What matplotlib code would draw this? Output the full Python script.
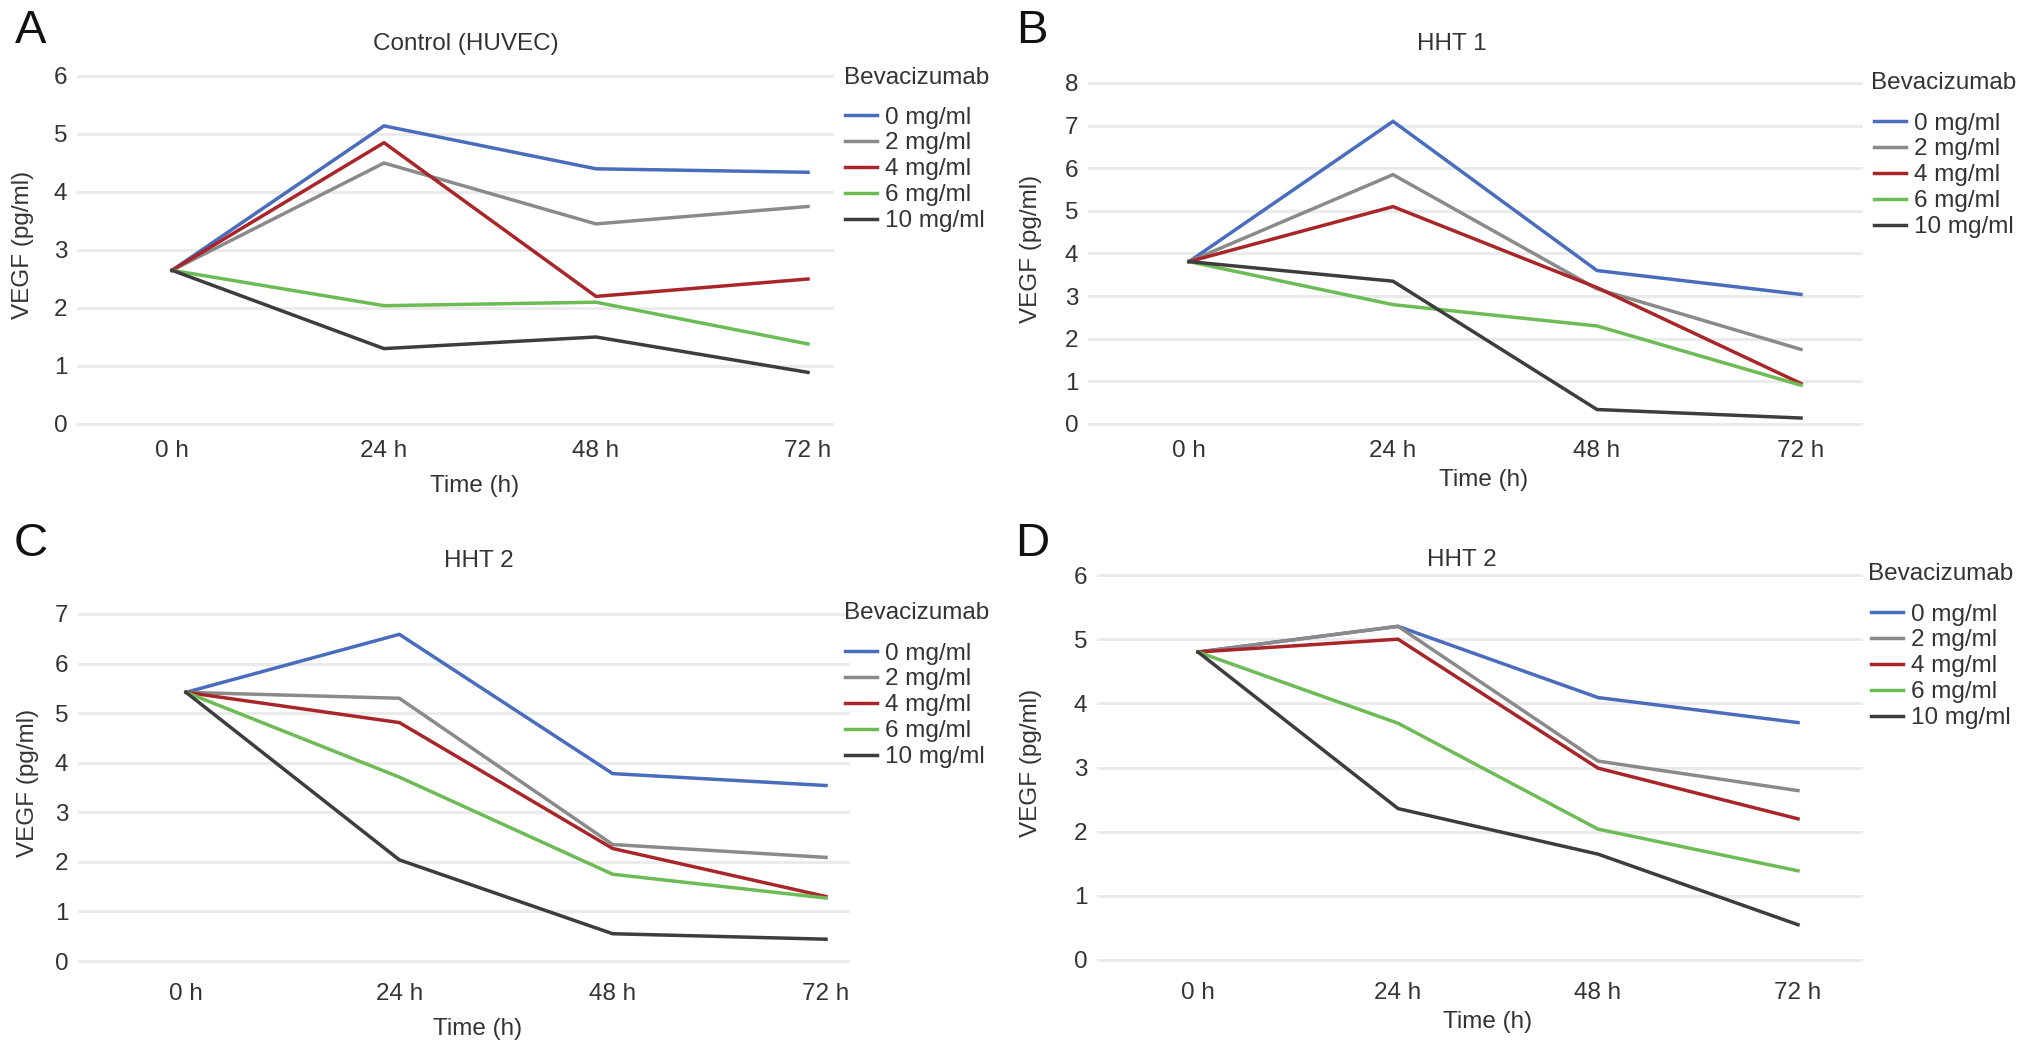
import matplotlib
matplotlib.use("Agg")
import matplotlib.pyplot as plt

plt.rcParams['font.family'] = ['Liberation Sans', 'DejaVu Sans']

# ---------------- data ----------------
time_labels = ["0 h", "24 h", "48 h", "72 h"]
dose_labels = ["0 mg/ml", "2 mg/ml", "4 mg/ml", "6 mg/ml", "10 mg/ml"]
legend_title = "Bevacizumab"
panel_letters = ["A", "B", "C", "D"]
panel_titles = ["Control (HUVEC)", "HHT 1", "HHT 2", "HHT 2"]
panel_ymax = [6, 8, 7, 6]

# panel A: Control (HUVEC)
a_0mg = [2.65, 5.14, 4.40, 4.34]
a_2mg = [2.65, 4.50, 3.45, 3.75]
a_4mg = [2.65, 4.85, 2.20, 2.50]
a_6mg = [2.65, 2.04, 2.10, 1.38]
a_10mg = [2.65, 1.30, 1.50, 0.89]

# panel B: HHT 1
b_0mg = [3.81, 7.10, 3.60, 3.04]
b_2mg = [3.81, 5.85, 3.17, 1.75]
b_4mg = [3.81, 5.10, 3.20, 0.95]
b_6mg = [3.81, 2.80, 2.30, 0.91]
b_10mg = [3.81, 3.35, 0.34, 0.14]

# panel C: HHT 2
c_0mg = [5.42, 6.59, 3.78, 3.54]
c_2mg = [5.42, 5.30, 2.35, 2.09]
c_4mg = [5.42, 4.81, 2.27, 1.30]
c_6mg = [5.42, 3.71, 1.75, 1.27]
c_10mg = [5.42, 2.04, 0.55, 0.44]

# panel D: HHT 2
d_0mg = [4.80, 5.20, 4.09, 3.70]
d_2mg = [4.80, 5.20, 3.10, 2.64]
d_4mg = [4.80, 5.00, 2.99, 2.20]
d_6mg = [4.80, 3.69, 2.04, 1.39]
d_10mg = [4.80, 2.36, 1.65, 0.55]

panel_series = [
    [a_0mg, a_2mg, a_4mg, a_6mg, a_10mg],
    [b_0mg, b_2mg, b_4mg, b_6mg, b_10mg],
    [c_0mg, c_2mg, c_4mg, c_6mg, c_10mg],
    [d_0mg, d_2mg, d_4mg, d_6mg, d_10mg],
]

colors = ["#4a6cbd", "#8a8a8a", "#a8262a", "#6cbb55", "#3d3d3d"]

# ---------------- layout (pixels) ----------------
W, H = 2032, 1055
fig = plt.figure(figsize=(W / 100, H / 100), dpi=100)
FS = 17.5

# (grid_left, grid_right, y_top_grid, y_zero, tick0_px, tick3_px)
geo = [
    (77, 834, 76, 424, 172, 808),
    (1088, 1863, 83, 424, 1189, 1801),
    (78, 850, 614, 961, 186, 826),
    (1097, 1863, 575, 960, 1198, 1798),
]
title_pos = [(466, 44), (1452, 44), (479, 561), (1462, 560)]
letter_pos = [(31, 31), (1032, 31), (31, 544), (1032, 544)]
ylabel_x = [23, 1031, 28, 1031]
xlabel_pos = [(475, 486), (1484, 480), (478, 1029), (1488, 1022)]
xtick_off = [25, 25, 31, 31]
legend_title_pos = [(844, 78), (1871, 83), (844, 613), (1868, 574)]
legend_first = [(845, 117), (1874, 123), (845, 653), (1871, 614)]

x = list(range(len(time_labels)))

for i in range(4):
    gl, gr, yt, y0, t0, t3 = geo[i]
    ymax = panel_ymax[i]
    pad_top, pad_bot = 14, 4
    ax = fig.add_axes([gl / W, 1 - (y0 + pad_bot) / H, (gr - gl) / W,
                       (y0 + pad_bot - (yt - pad_top)) / H])
    s = (t3 - t0) / 3.0
    ax.set_xlim((gl - t0) / s, (gr - t0) / s)
    unit = (y0 - yt) / ymax
    ax.set_ylim(-pad_bot / unit, ymax + pad_top / unit)

    for vals, col, lab in zip(panel_series[i], colors, dose_labels):
        ax.plot(x, vals, color=col, lw=2.5, label=lab, solid_joinstyle='miter')

    ax.set_yticks(range(0, ymax + 1))
    ax.set_xticks(x)
    ax.set_xticklabels(time_labels)
    ax.grid(axis='y', color='#ebebeb', lw=2.2)
    ax.set_axisbelow(True)
    for sp in ax.spines.values():
        sp.set_visible(False)
    xpad = (xtick_off[i] - 9 - pad_bot) * 0.72
    ax.tick_params(axis='x', length=0, pad=xpad, labelsize=FS, labelcolor='#333333')
    ax.tick_params(axis='y', length=0, pad=7, labelsize=FS, labelcolor='#333333')

    axw = gr - gl
    axh = y0 + pad_bot - (yt - pad_top)
    axtop = yt - pad_top

    def to_ax(px, py):
        return (px - gl) / axw, 1 - (py - axtop) / axh

    ax.set_ylabel("VEGF (pg/ml)", fontsize=FS, color='#333333', va='center')
    ax.yaxis.set_label_coords(to_ax(ylabel_x[i], 0)[0], 0.5)
    ax.set_xlabel("Time (h)", fontsize=FS, color='#333333', va='center')
    ax.xaxis.set_label_coords(*to_ax(*xlabel_pos[i]))

    tx, ty = to_ax(*title_pos[i])
    ax.text(tx, ty, panel_titles[i], transform=ax.transAxes, ha='center',
            va='center', fontsize=FS, color='#333333')

    lx, ly = letter_pos[i]
    fig.text(lx / W, 1 - ly / H, panel_letters[i], ha='center', va='center',
             fontsize=34, color='#111111')

    tx, ty = legend_title_pos[i]
    fig.text(tx / W, 1 - ty / H, legend_title, ha='left', va='center',
             fontsize=FS, color='#333333')

    hx, hy = legend_first[i]
    ax.legend(loc='upper left', bbox_to_anchor=(hx / W, 1 - (hy - 10.5) / H),
              bbox_transform=fig.transFigure, frameon=False, fontsize=FS,
              borderpad=0, borderaxespad=0, handlelength=1.3,
              handletextpad=0.35, labelspacing=0.16, labelcolor='#333333')

fig.savefig("out.png", dpi=100, facecolor='white')
